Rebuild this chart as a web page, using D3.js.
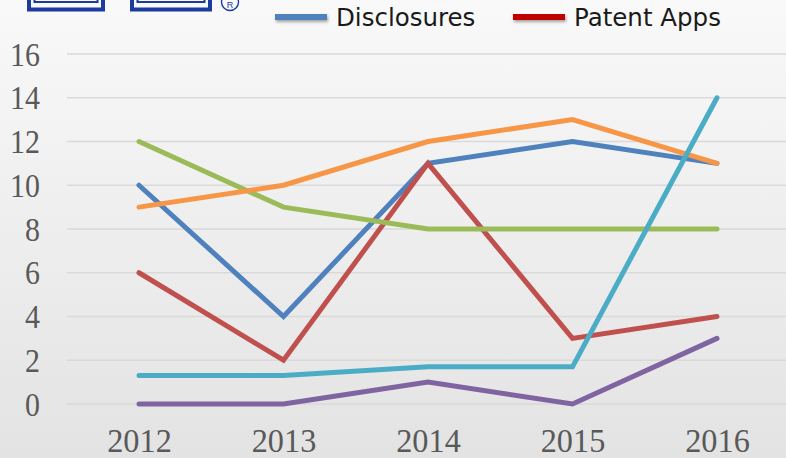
<!DOCTYPE html>
<html>
<head>
<meta charset="utf-8">
<script src="https://cdn.jsdelivr.net/npm/d3@7"></script>
<style>
  html, body { margin: 0; padding: 0; }
  body { width: 786px; height: 458px; overflow: hidden; }
</style>
</head>
<body>
<div id="chart"></div>
<script>
var YEARS = ["2012", "2013", "2014", "2015", "2016"];
var Y_TICKS = [0, 2, 4, 6, 8, 10, 12, 14, 16];

var DISCLOSURES = [10, 4, 11, 12, 11];
var PATENT_APPS = [6, 2, 11, 3, 4];
var GREEN_SERIES = [12, 9, 8, 8, 8];
var ORANGE_SERIES = [9, 10, 12, 13, 11];
var PURPLE_SERIES = [0, 0, 1, 0, 3];
var CYAN_SERIES = [1.3, 1.3, 1.7, 1.7, 14];

var LEGEND = [
    { name: "Disclosures", color: "#4F81BD", x: 275 },
    { name: "Patent Apps", color: "#C00000", x: 513 }
];

function createChart(id) {
    var width = 786, height = 458;

    var svg = d3.select(id).append("svg")
        .attr("width", width)
        .attr("height", height);

    // background gradient
    var defs = svg.append("defs");
    var grad = defs.append("linearGradient")
        .attr("id", "bg")
        .attr("x1", 0).attr("y1", 0).attr("x2", 0).attr("y2", 1);
    grad.append("stop").attr("offset", "0%").attr("stop-color", "#f9f9f9");
    grad.append("stop").attr("offset", "100%").attr("stop-color", "#e3e3e3");

    var shadow = defs.append("filter").attr("id", "shadow")
        .attr("x", "-20%").attr("y", "-100%").attr("width", "140%").attr("height", "300%");
    shadow.append("feDropShadow")
        .attr("dx", 1).attr("dy", 2).attr("stdDeviation", 1.5)
        .attr("flood-color", "#000").attr("flood-opacity", 0.35);

    svg.append("rect")
        .attr("width", width).attr("height", height)
        .attr("fill", "url(#bg)");

    // logo fragment (cut off at the top edge)
    var logo = svg.append("g");
    [[27, 78], [130, 82]].forEach(function (b) {
        logo.append("rect")
            .attr("x", b[0] + 2).attr("y", -10)
            .attr("width", b[1] - 4).attr("height", 19.5)
            .attr("fill", "none").attr("stroke", "#1B3B9E").attr("stroke-width", 4);
        logo.append("rect")
            .attr("x", b[0] + 7.5).attr("y", -10)
            .attr("width", b[1] - 15).attr("height", 12)
            .attr("fill", "none").attr("stroke", "#1B3B9E").attr("stroke-width", 2);
    });
    logo.append("circle")
        .attr("cx", 230).attr("cy", 2).attr("r", 8.5)
        .attr("fill", "none").attr("stroke", "#1B3B9E").attr("stroke-width", 1.4);
    logo.append("text")
        .attr("x", 230).attr("y", 8)
        .attr("text-anchor", "middle")
        .attr("font-family", "Liberation Sans, Arial, sans-serif")
        .attr("font-size", 9)
        .attr("fill", "#1B3B9E")
        .text("R");

    var x = d3.scalePoint()
        .domain(YEARS)
        .range([139, 717]);

    var y = d3.scaleLinear()
        .domain([0, 16])
        .range([404, 54]);

    // gridlines
    svg.append("g")
        .selectAll("line")
        .data(Y_TICKS)
        .enter().append("line")
        .attr("x1", 67).attr("x2", width)
        .attr("y1", function (d) { return y(d); })
        .attr("y2", function (d) { return y(d); })
        .attr("stroke", "#d9d9d9")
        .attr("stroke-width", 1.5);

    // y axis labels
    var yAxis = svg.append("g")
        .attr("transform", "translate(40,0)")
        .call(d3.axisLeft(y).tickValues(Y_TICKS).tickSize(0).tickPadding(0));
    yAxis.select(".domain").remove();
    yAxis.selectAll("text")
        .attr("font-family", "Liberation Serif, Times New Roman, serif")
        .attr("font-size", 34)
        .attr("fill", "#595959")
        .attr("x", 0)
        .attr("dy", "0.33em")
        .attr("transform", "scale(0.88,1)");

    // x axis labels
    var xAxis = svg.append("g")
        .attr("transform", "translate(0,452)")
        .call(d3.axisBottom(x).tickSize(0).tickPadding(0));
    xAxis.select(".domain").remove();
    xAxis.selectAll("text")
        .attr("font-family", "Liberation Serif, Times New Roman, serif")
        .attr("font-size", 34)
        .attr("fill", "#595959")
        .attr("y", 0)
        .attr("dy", 0)
        .attr("transform", "scale(0.95,1)");

    var series = [
        { values: DISCLOSURES, color: "#4F81BD" },
        { values: PATENT_APPS, color: "#C0504D" },
        { values: GREEN_SERIES, color: "#9BBB59" },
        { values: ORANGE_SERIES, color: "#F79646" },
        { values: PURPLE_SERIES, color: "#8064A2" },
        { values: CYAN_SERIES, color: "#4BACC6" }
    ];

    var line = d3.line()
        .x(function (d, i) { return x(YEARS[i]); })
        .y(function (d) { return y(d); });

    svg.append("g")
        .selectAll("path")
        .data(series)
        .enter().append("path")
        .attr("d", function (d) { return line(d.values); })
        .attr("fill", "none")
        .attr("stroke", function (d) { return d.color; })
        .attr("stroke-width", 5)
        .attr("stroke-linecap", "round")
        .attr("stroke-linejoin", "miter");

    // legend
    var leg = svg.append("g")
        .selectAll("g")
        .data(LEGEND)
        .enter().append("g")
        .attr("transform", function (d) { return "translate(" + d.x + ",17)"; });
    leg.append("rect")
        .attr("x", 0).attr("y", -3)
        .attr("width", 52).attr("height", 6)
        .attr("fill", function (d) { return d.color; })
        .attr("filter", "url(#shadow)");
    leg.append("text")
        .attr("x", 61).attr("y", 0)
        .attr("dy", "0.36em")
        .attr("font-family", "DejaVu Sans, sans-serif")
        .attr("font-size", 24.5)
        .attr("fill", "#1a1a1a")
        .text(function (d) { return d.name; });
}

createChart("#chart");
</script>
</body>
</html>
